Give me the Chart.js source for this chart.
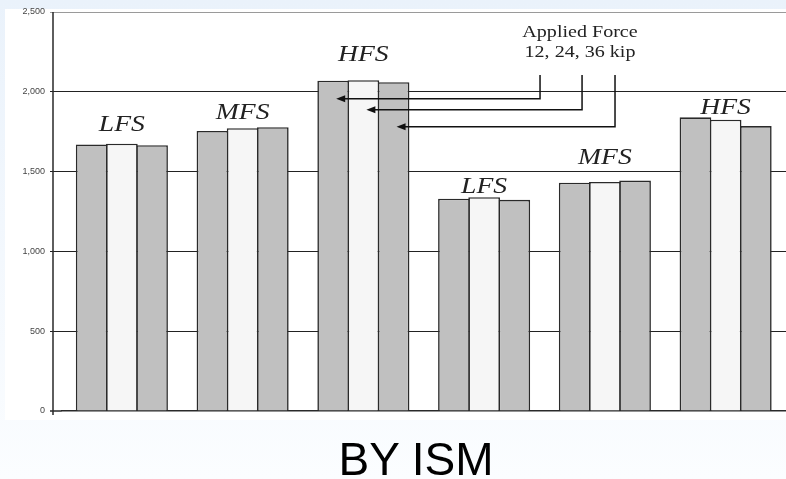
<!DOCTYPE html>
<html>
<head>
<meta charset="utf-8">
<script src="https://cdn.jsdelivr.net/npm/chart.js@4.4.0/dist/chart.umd.min.js"></script>
<style>
  html, body { margin: 0; padding: 0; }
  body {
    width: 786px; height: 479px; overflow: hidden; position: relative;
    background: linear-gradient(#eaf2fb, #fbfdff);
  }
  #chart { position: absolute; left: 0; top: 0; }
  #caption {
    position: absolute; left: 0; width: 832px; top: 436px;
    text-align: center; font: 46px "Liberation Sans", Arial, sans-serif;
    line-height: 46px; color: #000;
  }
</style>
</head>
<body>
<canvas id="chart" width="786" height="479"></canvas>
<div id="caption">BY ISM</div>
<script>
// Dados do gráfico
const categories = ['LFS', 'MFS', 'HFS', 'LFS', 'MFS', 'HFS'];
const force12 = [1670, 1755, 2070, 1330, 1430, 1840];
const force24 = [1675, 1772, 2073, 1340, 1435, 1825];
const force36 = [1665, 1778, 2060, 1323, 1444, 1785];
const yTicks = [0, 500, 1000, 1500, 2000, 2500];

// Altura (em unidades do eixo) onde fica cada rótulo de grupo
const labelLevels = [1756, 1831, 2194, 1363, 1550, 1863];
// Legenda "Applied Force" e as setas (em unidades dos eixos)
const calloutLines = ['Applied Force', '12, 24, 36 kip'];
const calloutX = 3.794;
const calloutY = [2344, 2219];
const pointerX = [3.463, 3.811, 4.084];
const pointerTop = 2106;
const pointerLevels = [1956, 1887, 1781];

const GRAY = '#c0c0c0';
const LIGHT = '#f6f6f6';
const EDGE = '#2a2a2a';
const AXIS_X = 53;   // onde fica a linha do eixo vertical

const panelBg = {
  id: 'panelBg',
  beforeDraw(chart) {
    const ctx = chart.ctx;
    ctx.save();
    ctx.fillStyle = '#ffffff';
    ctx.fillRect(5, 9, 781, 411);
    ctx.restore();
  },
  // eixo vertical um pouco à esquerda da área dos dados
  beforeDatasetsDraw(chart) {
    const ctx = chart.ctx;
    const a = chart.chartArea;
    ctx.save();
    ctx.strokeStyle = EDGE;
    ctx.lineWidth = 1.5;
    ctx.beginPath();
    ctx.moveTo(AXIS_X, a.top);
    ctx.lineTo(AXIS_X, a.bottom + 4);
    ctx.moveTo(AXIS_X - 3, a.bottom);
    ctx.lineTo(a.left, a.bottom);
    ctx.stroke();
    ctx.restore();
  }
};

function stretchedText(ctx, text, x, y, font, sx) {
  ctx.save();
  ctx.translate(x, y);
  ctx.scale(sx, 1);
  ctx.font = font;
  ctx.textAlign = 'center';
  ctx.textBaseline = 'alphabetic';
  ctx.fillText(text, 0, 0);
  ctx.restore();
}

const annotations = {
  id: 'annotations',
  afterDatasetsDraw(chart) {
    const ctx = chart.ctx;
    const xs = chart.scales.x;
    const ys = chart.scales.y;
    ctx.save();
    ctx.fillStyle = '#222';

    // rótulos dos grupos
    categories.forEach((c, i) => {
      stretchedText(ctx, c, xs.getPixelForValue(i), ys.getPixelForValue(labelLevels[i]),
        "italic 23px 'Liberation Serif', 'Times New Roman', serif", 1.2);
    });

    // texto da legenda
    calloutLines.forEach((t, i) => {
      stretchedText(ctx, t, xs.getPixelForValue(calloutX), ys.getPixelForValue(calloutY[i]),
        "17px 'Liberation Serif', 'Times New Roman', serif", 1.18);
    });

    // setas apontando para as barras do grupo HFS
    ctx.strokeStyle = '#111';
    ctx.fillStyle = '#111';
    ctx.lineWidth = 1.5;
    for (let i = 0; i < 3; i++) {
      const bar = chart.getDatasetMeta(i).data[2];
      const tipX = bar.x + 3;
      const px = xs.getPixelForValue(pointerX[i]);
      const top = ys.getPixelForValue(pointerTop);
      const py = ys.getPixelForValue(pointerLevels[i]);
      ctx.beginPath();
      ctx.moveTo(px, top);
      ctx.lineTo(px, py);
      ctx.lineTo(tipX + 8, py);
      ctx.stroke();
      ctx.beginPath();
      ctx.moveTo(tipX, py);
      ctx.lineTo(tipX + 9, py - 3.5);
      ctx.lineTo(tipX + 9, py + 3.5);
      ctx.closePath();
      ctx.fill();
    }
    ctx.restore();
  }
};

const ctx = document.getElementById('chart').getContext('2d');
new Chart(ctx, {
  type: 'bar',
  data: {
    labels: categories,
    datasets: [
      { label: '12 kip', data: force12, backgroundColor: GRAY, borderColor: EDGE, borderWidth: 1.6 },
      { label: '24 kip', data: force24, backgroundColor: LIGHT, borderColor: EDGE, borderWidth: 1.6 },
      { label: '36 kip', data: force36, backgroundColor: GRAY, borderColor: EDGE, borderWidth: 1.6 }
    ]
  },
  options: {
    responsive: false,
    animation: false,
    layout: { padding: { top: 12, right: 0, bottom: 0, left: 0 } },
    datasets: { bar: { categoryPercentage: 0.75, barPercentage: 1.05, inflateAmount: 0 } },
    plugins: { legend: { display: false }, tooltip: { enabled: false } },
    scales: {
      x: {
        ticks: { display: false },
        grid: { display: false },
        border: { display: true, color: EDGE, width: 1.5 },
        afterFit(scale) { scale.height = 68; }
      },
      y: {
        min: 0,
        max: 2500,
        afterBuildTicks(scale) { scale.ticks = yTicks.map(v => ({ value: v })); },
        ticks: {
          padding: 5,
          color: '#444',
          font: { family: "'Liberation Sans', Arial, sans-serif", size: 9 },
          callback: v => v.toLocaleString('en-US')
        },
        grid: {
          tickLength: 11.5,
          lineWidth: 1,
          color: c => c.tick.value === 2500 ? '#9a9a9a' : (c.tick.value === 0 ? 'rgba(0,0,0,0)' : '#222')
        },
        border: { display: false },
        afterFit(scale) { scale.width = 61.5; }
      }
    }
  },
  plugins: [panelBg, annotations]
});
</script>
</body>
</html>
